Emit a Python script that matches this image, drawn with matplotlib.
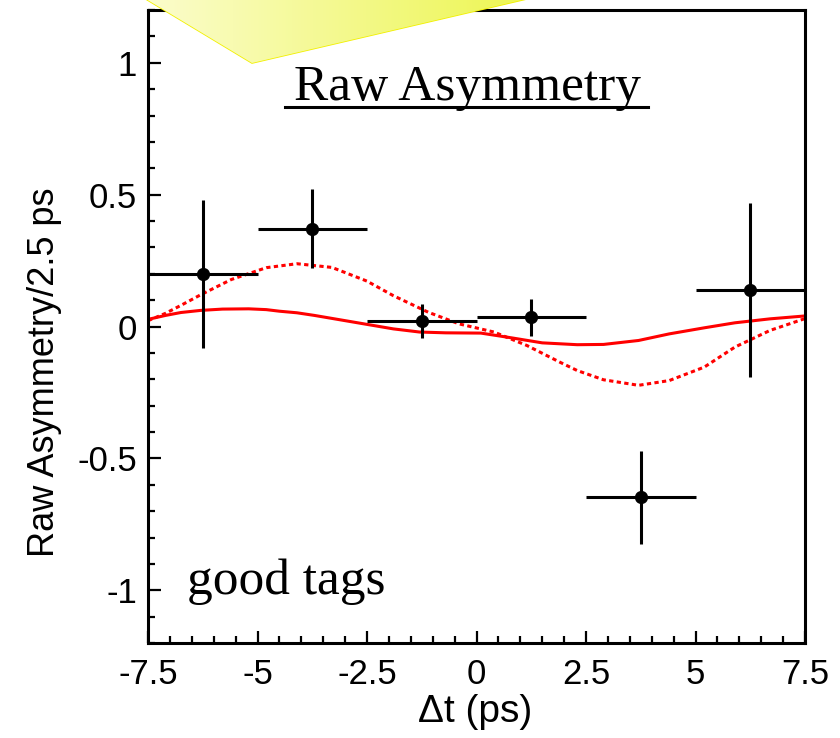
import matplotlib
matplotlib.use("Agg")
import matplotlib.pyplot as plt
import numpy as np
from matplotlib.patches import Polygon
from matplotlib.ticker import MultipleLocator

# Binned raw asymmetry (2.5 ps bins)
dt_centers = [-6.25, -3.75, -1.25, 1.25, 3.75, 6.25]
dt_halfwidth = [1.25, 1.25, 1.25, 1.25, 1.25, 1.25]
asym = [0.20, 0.37, 0.02, 0.035, -0.648, 0.14]
asym_err = [0.28, 0.15, 0.065, 0.07, 0.175, 0.33]

# Fit projection (solid)
fit_t = [-7.5, -7.1, -6.75, -6.3, -5.8, -5.2, -4.8, -4.5, -4.1, -3.7, -3.1, -2.5, -1.9,
         -1.3, -0.7, 0.1, 0.8, 1.5, 2.3, 2.9, 3.7, 4.4, 5.2, 5.9, 6.7, 7.5]
fit_a = [0.027, 0.042, 0.053, 0.061, 0.066, 0.067, 0.064, 0.058, 0.052, 0.042, 0.025, 0.008,
         -0.009, -0.021, -0.024, -0.025, -0.043, -0.062, -0.069, -0.068, -0.053, -0.028,
         -0.005, 0.014, 0.029, 0.040]

# Expectation curve (dotted)
exp_t = [-7.5, -7.1, -6.75, -6.3, -5.6, -4.8, -4.1, -3.3, -2.5, -1.9, -1.1, -0.4, 0.4,
         1.15, 1.9, 2.3, 2.9, 3.7, 4.4, 5.2, 5.9, 6.7, 7.5]
exp_a = [0.022, 0.050, 0.080, 0.120, 0.178, 0.223, 0.238, 0.224, 0.172, 0.117, 0.054, 0.010,
         -0.021, -0.072, -0.135, -0.167, -0.202, -0.223, -0.205, -0.154, -0.078, -0.015, 0.030]

x_ticks = [-7.5, -5, -2.5, 0, 2.5, 5, 7.5]
x_ticklabels = ["-7.5", "-5", "-2.5", "0", "2.5", "5", "7.5"]
y_ticks = [-1, -0.5, 0, 0.5, 1]
y_ticklabels = ["-1", "-0.5", "0", "0.5", "1"]

W, H = 840, 738
fig = plt.figure(figsize=(W / 100, H / 100), dpi=100)
L, R, B, T = 148, 805, 643, 10
ax = fig.add_axes([L / W, 1 - B / H, (R - L) / W, (B - T) / H])

sans = "Liberation Sans"
serif = "Liberation Serif"

ax.plot(fit_t, fit_a, color="#ff0000", lw=2.2, zorder=2,
        solid_capstyle="round", solid_joinstyle="round")
ax.plot(exp_t, exp_a, color="#ff0000", lw=2.2, linestyle=(0, (1.4, 1.1)), zorder=2)
ax.errorbar(dt_centers, asym, xerr=dt_halfwidth, yerr=asym_err, fmt="o",
            color="black", ms=8.5, elinewidth=2.2, capsize=0, zorder=3)

ax.set_xlim(-7.5, 7.5)
ax.set_ylim(-1.2, 1.2)
ax.set_xticks(x_ticks)
ax.set_xticklabels(x_ticklabels)
ax.set_yticks(y_ticks)
ax.set_yticklabels(y_ticklabels)
ax.xaxis.set_minor_locator(MultipleLocator(0.5))
ax.yaxis.set_minor_locator(MultipleLocator(0.1))
ax.tick_params(which="both", direction="in", width=1.6, top=False, right=False)
ax.tick_params(which="major", length=9)
ax.tick_params(which="minor", length=5)
ax.tick_params(axis="x", which="major", pad=11, labelsize=25)
ax.tick_params(axis="y", which="major", pad=8, labelsize=25)
for lab in ax.get_xticklabels() + ax.get_yticklabels():
    lab.set_fontfamily(sans)
for s in ax.spines.values():
    s.set_linewidth(2.2)

ax.set_xlabel("Δt (ps)", fontsize=28, family=sans, va="top")
ax.xaxis.set_label_coords((475 - L) / (R - L), (B - 694) / (B - T))
ax.set_ylabel("Raw Asymmetry/2.5 ps", fontsize=26, family=sans, va="center")
ax.yaxis.set_label_coords((45 - L) / (R - L), (B - 372) / (B - T))

# Panel annotations
ax.text((467 - L) / (R - L), (B - 100) / (B - T), "Raw Asymmetry", transform=ax.transAxes,
        ha="center", va="baseline", fontsize=37, family=serif, zorder=4)
ax.plot([(285 - L) / (R - L), (648 - L) / (R - L)], [(B - 107) / (B - T)] * 2,
        transform=ax.transAxes, color="black", lw=2.2, clip_on=False, zorder=4)
ax.text((187 - L) / (R - L), (B - 594) / (B - T), "good tags", transform=ax.transAxes,
        ha="left", va="baseline", fontsize=37, family=serif, zorder=4)

# Yellow callout wedge over the top of the frame
ov = fig.add_axes([0, 0, 1, 1], zorder=5)
ov.set_xlim(0, W)
ov.set_ylim(H, 0)
ov.axis("off")
grad = np.linspace(0, 1, 256).reshape(1, -1)
c0 = np.array([0.985, 0.99, 0.80])
c1 = np.array([0.93, 0.965, 0.33])
img = c0[None, None, :] * (1 - grad[..., None]) + c1[None, None, :] * grad[..., None]
wedge = Polygon([(131, -10), (252, 63), (565, -10)], closed=True,
                facecolor="none", edgecolor="#f2f000", lw=1.2)
ov.add_patch(wedge)
im = ov.imshow(img, extent=(148, 522, 63, -10), aspect="auto", zorder=1)
im.set_clip_path(wedge)
ov.set_xlim(0, W)
ov.set_ylim(H, 0)

fig.savefig("out.png", dpi=100)
